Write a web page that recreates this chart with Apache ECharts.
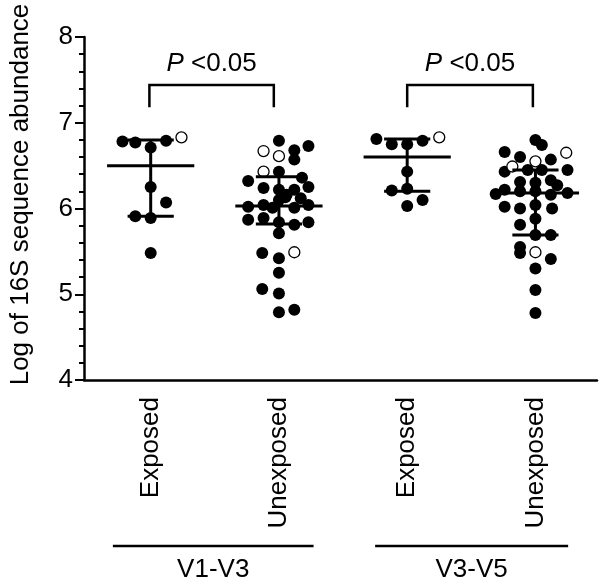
<!DOCTYPE html>
<html><head><meta charset="utf-8">
<script src="https://cdn.jsdelivr.net/npm/echarts@6/dist/echarts.min.js"></script>
<style>html,body{margin:0;padding:0;background:#fff}#c{width:600px;height:582px}</style>
</head><body><div id="c"></div>
<script>
// ---- data ----
const categories = ['Exposed', 'Unexposed', 'Exposed', 'Unexposed'];
const groupLabels = ['V1-V3', 'V3-V5'];
const groupSpans = [[0.705, 2.27], [2.75, 4.255]];
const yTicks = [4, 5, 6, 7, 8];
const yName = 'Log of 16S sequence abundance';

// each point: [horizontal jitter (category widths), log value, open circle 1/0]
const exposedV1V3 = [
  [-0.22, 6.78, 0], [-0.12, 6.77, 0], [0, 6.71, 0], [0.12, 6.79, 0], [0.24, 6.83, 1],
  [0, 6.25, 0], [0.12, 6.07, 0], [-0.12, 5.91, 0], [0, 5.89, 0], [0, 5.48, 0]
];
const unexposedV1V3 = [
  [0, 6.79, 0], [0.23, 6.73, 0], [-0.12, 6.67, 1], [0, 6.61, 1], [0.12, 6.68, 0],
  [0.12, 6.57, 0], [-0.12, 6.43, 1], [0, 6.43, 0], [-0.24, 6.32, 0], [0.18, 6.36, 0],
  [0.23, 6.25, 0], [-0.12, 6.24, 0], [0, 6.22, 0], [0.12, 6.22, 0], [0.05, 6.13, 0],
  [0, 6.10, 0], [0.06, 6.16, 0], [0.17, 6.12, 0],
  [-0.24, 6.02, 0], [-0.12, 6.04, 0], [-0.05, 6.01, 0], [0.12, 6.01, 0],
  [0.23, 6.04, 0], [-0.24, 5.87, 0], [-0.12, 5.89, 0], [0, 5.84, 0], [0.12, 5.81, 0],
  [0.23, 5.84, 0], [0, 5.71, 0], [-0.13, 5.48, 0], [0, 5.42, 0], [0.12, 5.49, 1],
  [0, 5.25, 0], [-0.13, 5.06, 0], [0, 5.01, 0], [0, 4.79, 0], [0.12, 4.82, 0]
];
const exposedV3V5 = [
  [-0.24, 6.81, 0], [-0.12, 6.75, 0], [0, 6.75, 0], [0.12, 6.79, 0], [0.25, 6.83, 1],
  [0, 6.43, 0], [-0.12, 6.21, 0], [0, 6.23, 0], [0.12, 6.10, 0], [0, 6.03, 0]
];
const unexposedV3V5 = [
  [0, 6.80, 0], [0.05, 6.74, 0], [-0.24, 6.66, 0], [-0.12, 6.60, 0], [0, 6.55, 1],
  [0.12, 6.57, 0], [0.24, 6.65, 1], [-0.18, 6.49, 1], [-0.24, 6.43, 0], [-0.06, 6.45, 0],
  [0.05, 6.45, 0], [0.25, 6.45, 0], [-0.12, 6.31, 0], [0, 6.30, 0], [0.12, 6.33, 0],
  [0.17, 6.27, 0], [-0.31, 6.17, 0], [-0.24, 6.22, 0], [-0.12, 6.20, 0], [0, 6.20, 0],
  [0.12, 6.16, 0], [0.25, 6.18, 0], [-0.24, 6.02, 0], [-0.12, 6.00, 0], [0, 6.04, 0],
  [0.13, 6.00, 0], [0, 5.88, 0], [-0.12, 5.81, 0], [0, 5.69, 0], [0.12, 5.69, 0],
  [-0.12, 5.55, 0], [-0.12, 5.48, 0], [0, 5.49, 1], [0.12, 5.41, 0], [0, 5.30, 0],
  [0, 5.05, 0], [0, 4.78, 0]
];
const groupMean = [6.50, 6.03, 6.60, 6.18];
const groupUpper = [6.80, 6.37, 6.81, 6.45];
const groupLower = [5.91, 5.82, 6.20, 5.69];
const comparisons = [[0.99, 1.96], [3.0, 3.98]];
const pLabel = ['P', ' <0.05'];

// ---- layout / style constants ----
const FONT = 'Arial, "Liberation Sans", sans-serif';
const FS = 26;
const MEAN_HW = 0.34, CAP_HW = 0.18;
const BR_TOP = 7.44, BR_BOTTOM = 7.18, P_Y = 7.69;

const groups = [exposedV1V3, unexposedV1V3, exposedV3V5, unexposedV3V5];
const filled = [], open = [];
groups.forEach((g, gi) => g.forEach(p => {
  (p[2] ? open : filled).push([gi + 1 + p[0], p[1]]);
}));
const summary = groups.map((g, gi) => [gi + 1, groupMean[gi], groupUpper[gi], groupLower[gi]]);

const chart = echarts.init(document.getElementById('c'), null, {renderer: 'canvas'});
chart.setOption({
  backgroundColor: '#fff',
  animation: false,
  grid: {left: 81, right: 3, top: 37, bottom: 202, containLabel: false},
  xAxis: {
    type: 'value', min: 0.48, max: 4.48,
    splitLine: {show: false},
    axisLine: {show: true, lineStyle: {color: '#000', width: 2.5}},
    axisTick: {show: false},
    axisLabel: {
      customValues: [1, 2, 3, 4], rotate: 90, margin: 17,
      formatter: v => categories[Math.round(v) - 1] || '',
      color: '#000', fontSize: FS, fontFamily: FONT
    }
  },
  yAxis: {
    type: 'value', min: yTicks[0], max: yTicks[yTicks.length - 1], interval: 1,
    splitLine: {show: false},
    axisLine: {show: true, lineStyle: {color: '#000', width: 2.5}},
    axisTick: {show: true, inside: false, length: 9, lineStyle: {color: '#000', width: 2}},
    minorTick: {show: true, splitNumber: 5, length: 5, lineStyle: {color: '#000', width: 2}},
    axisLabel: {color: '#000', fontSize: FS, fontFamily: FONT, margin: 11},
    name: yName, nameLocation: 'middle', nameGap: 50,
    nameTextStyle: {color: '#000', fontSize: FS, fontFamily: FONT, padding: [0, 0, 0, 28]}
  },
  series: [
    {
      type: 'scatter', data: filled, symbol: 'circle', symbolSize: 12, z: 2,
      itemStyle: {color: '#000', opacity: 1}
    },
    {
      type: 'scatter', data: open, symbol: 'circle', symbolSize: 11, z: 2,
      itemStyle: {color: '#fff', borderColor: '#000', borderWidth: 1.3, opacity: 1}
    },
    {
      type: 'custom', data: summary, z: 3,
      encode: {x: 0, y: [1, 2, 3]},
      renderItem: (params, api) => {
        const c = api.value(0), m = api.value(1), u = api.value(2), l = api.value(3);
        const a = api.coord([c - MEAN_HW, m]), b = api.coord([c + MEAN_HW, m]);
        const u1 = api.coord([c - CAP_HW, u]), u2 = api.coord([c + CAP_HW, u]);
        const l1 = api.coord([c - CAP_HW, l]), l2 = api.coord([c + CAP_HW, l]);
        const vu = api.coord([c, u]), vl = api.coord([c, l]);
        const st = {stroke: '#000', lineWidth: 3};
        return {type: 'group', children: [
          {type: 'line', shape: {x1: a[0], y1: a[1], x2: b[0], y2: b[1]}, style: st},
          {type: 'line', shape: {x1: u1[0], y1: u1[1], x2: u2[0], y2: u2[1]}, style: st},
          {type: 'line', shape: {x1: l1[0], y1: l1[1], x2: l2[0], y2: l2[1]}, style: st},
          {type: 'line', shape: {x1: vu[0], y1: vu[1], x2: vl[0], y2: vl[1]}, style: st}
        ]};
      }
    },
    {
      type: 'custom', data: comparisons, z: 3, clip: false,
      encode: {x: [0, 1]},
      renderItem: (params, api) => {
        const x1 = api.value(0), x2 = api.value(1);
        const t1 = api.coord([x1, BR_TOP]), t2 = api.coord([x2, BR_TOP]);
        const b1 = api.coord([x1, BR_BOTTOM]), b2 = api.coord([x2, BR_BOTTOM]);
        const pt = api.coord([(x1 + x2) / 2, P_Y]);
        const st = {stroke: '#000', lineWidth: 2.5, fill: null};
        return {type: 'group', children: [
          {type: 'polyline', shape: {points: [b1, t1, t2, b2]}, style: st},
          {type: 'text', x: pt[0], y: pt[1], style: {
            text: '{i|' + pLabel[0] + '}' + pLabel[1], fill: '#000', font: FS + 'px ' + FONT,
            align: 'center', verticalAlign: 'middle',
            rich: {i: {fontStyle: 'italic', fontSize: FS, fontFamily: FONT, fill: '#000'}}
          }}
        ]};
      }
    },
    {
      type: 'custom', data: groupSpans, z: 3, clip: false,
      encode: {x: [0, 1]},
      renderItem: (params, api) => {
        const x1 = api.value(0), x2 = api.value(1);
        const p1 = api.coord([x1, yTicks[0]]), p2 = api.coord([x2, yTicks[0]]);
        const ly = p1[1] + 166, ty = p1[1] + 190;
        return {type: 'group', children: [
          {type: 'line', shape: {x1: p1[0], y1: ly, x2: p2[0], y2: ly}, style: {stroke: '#000', lineWidth: 2.5}},
          {type: 'text', x: (p1[0] + p2[0]) / 2, y: ty, style: {
            text: groupLabels[params.dataIndex], fill: '#000', font: FS + 'px ' + FONT,
            align: 'center', verticalAlign: 'middle'
          }}
        ]};
      }
    }
  ]
});
</script>
</body></html>
